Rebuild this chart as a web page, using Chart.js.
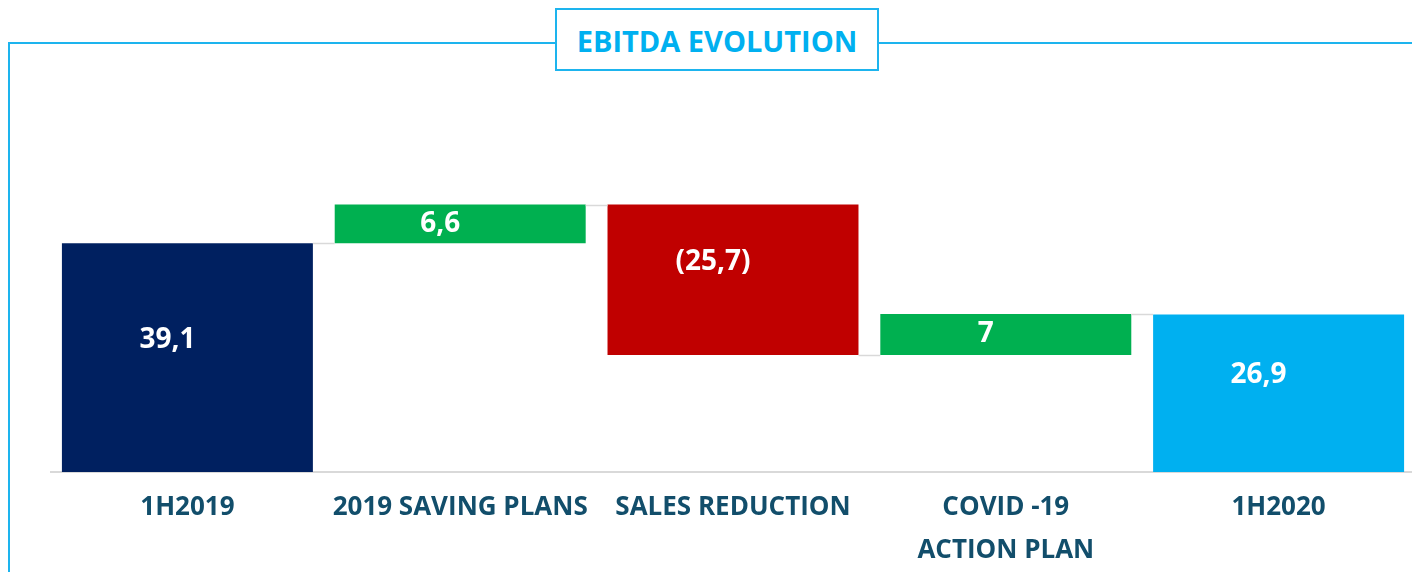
<!DOCTYPE html>
<html>
<head>
<meta charset="utf-8">
<script src="https://cdn.jsdelivr.net/npm/chart.js@4"></script>
<style>
  body { margin:0; background:#fff; }
  #wrap { position:relative; width:1412px; height:572px; overflow:hidden; }
  #frame { position:absolute; left:8px; top:42px; width:1420px; height:600px;
           border-left:2px solid #1db4ee; border-top:2px solid #1db4ee; }
  #title { position:absolute; left:555px; top:8px; width:320px; height:59px;
           border:2px solid #1db4ee; background:#fff; color:#00b0f0;
           font-family:"Open Sans", sans-serif; font-weight:bold; font-size:29px;
           line-height:62px; text-align:center; }
  #cv { position:absolute; left:0; top:0; }
</style>
</head>
<body>
<div id="wrap">
  <div id="frame"></div>
  <canvas id="cv" width="1416" height="572"></canvas>
  <div id="title">EBITDA EVOLUTION</div>
</div>
<script>
const categories = ['1H2019', '2019 SAVING PLANS', 'SALES REDUCTION', ['COVID -19', 'ACTION PLAN'], '1H2020'];
const steps = [39.1, 6.6, -25.7, 7, 26.9];
const valueLabels = ['39,1', '6,6', '(25,7)', '7', '26,9'];
const isTotal = [true, false, false, false, true];
const barColors = ['#002060', '#00b050', '#c00000', '#00b050', '#00b0f0'];

// build floating ranges
function buildRanges(){
    var ranges = [];
    var running = 0;
    for (var i = 0; i < steps.length; i++) {
        if (isTotal[i]) {
            ranges.push([0, steps[i]]);
            running = steps[i];
        } else {
            ranges.push([running, running + steps[i]]);
            running = running + steps[i];
        }
    }
    return ranges;
}
const ranges = buildRanges();

const waterfallExtras = {
    id: 'waterfallExtras',
    afterDatasetsDraw(chart){
        const ctx = chart.ctx;
        const meta = chart.getDatasetMeta(0);
        const yScale = chart.scales.y;
        // connector lines
        ctx.save();
        ctx.strokeStyle = '#d9d9d9';
        ctx.lineWidth = 1.5;
        for (var i = 0; i < ranges.length - 1; i++) {
            var level = ranges[i][1];
            var y = Math.round(yScale.getPixelForValue(level)) + 0.5;
            var a = meta.data[i], b = meta.data[i + 1];
            ctx.beginPath();
            ctx.moveTo(a.x + a.width / 2, y);
            ctx.lineTo(b.x - b.width / 2, y);
            ctx.stroke();
        }
        // value labels
        ctx.fillStyle = '#ffffff';
        ctx.font = 'bold 28px "Open Sans", sans-serif';
        ctx.textAlign = 'center';
        ctx.textBaseline = 'middle';
        meta.data.forEach(function(bar, i){
            var top = Math.min(bar.y, bar.base);
            var h = Math.abs(bar.base - bar.y);
            var y = top + h / 2;
            if (h > 80) y -= 18;
            ctx.fillText(valueLabels[i], bar.x - 20, y);
        });
        ctx.restore();
    }
};

const chartEl = document.getElementById('cv').getContext('2d');
const myChart = new Chart(chartEl, {
    type: 'bar',
    data: {
        labels: categories,
        datasets: [{
            data: ranges,
            backgroundColor: barColors,
            borderWidth: 0,
            barPercentage: 0.92,
            categoryPercentage: 1
        }]
    },
    options: {
        responsive: false,
        animation: false,
        layout: { padding: { left: 51, top: 80, right: 1, bottom: 0 } },
        plugins: { legend: { display: false }, tooltip: { enabled: false } },
        scales: {
            x: {
                grid: { display: false, drawTicks: false },
                border: { display: true, color: '#d9d9d9', width: 2 },
                ticks: {
                    color: '#124e6b',
                    padding: 15,
                    maxRotation: 0,
                    autoSkip: false,
                    font: { family: '"Open Sans", sans-serif', weight: 'bold', size: 26, lineHeight: 1.62 }
                },
                afterFit(scale){ scale.height = 100; }
            },
            y: {
                display: false,
                min: 0,
                max: 67
            }
        }
    },
    plugins: [waterfallExtras]
});
</script>
</body>
</html>
